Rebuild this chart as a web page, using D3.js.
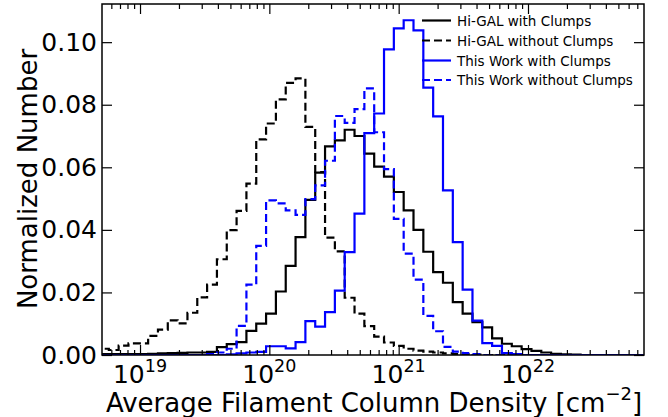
<!DOCTYPE html>
<html>
<head>
<meta charset="utf-8">
<script src="https://cdn.jsdelivr.net/npm/d3@7"></script>
<style>
  html, body { margin: 0; padding: 0; background: #fff; }
  svg { display: block; }
  text { font-family: "DejaVu Sans", sans-serif; fill: #000; }
</style>
</head>
<body>
<svg id="chart" width="668" height="417"></svg>
<script>
// ---- Data (histogram bins in log10 N) ----
const LOG_START = 18.6827;   // first bin edge, log10(cm^-2)
const LOG_STEP = 0.0760;     // bin width, dex
const N_BINS = 56;

const higalWith = [
  0.0003,0.0003,0.0003,0.0003,0.0003,0.0004,0.0005,0.0006,0.0007,0.0008,
  0.0008,0.0010,0.0025,0.0035,0.0041,0.0077,0.0100,0.0132,0.0203,0.0285,
  0.0377,0.0496,0.0583,0.0667,0.0686,0.0720,0.0700,0.0644,0.0602,0.0570,
  0.0521,0.0462,0.0400,0.0330,0.0265,0.0231,0.0169,0.0132,0.0105,0.0088,
  0.0053,0.0036,0.0028,0.0019,0.0013,0.0008,0.0004,0.0002,0.0001,0,
  0,0,0,0,0,0
];
const higalWithout = [
  0.0020,0.0016,0.0030,0.0037,0.0037,0.0061,0.0081,0.0111,0.0101,0.0135,
  0.0184,0.0225,0.0306,0.0399,0.0461,0.0548,0.0689,0.0740,0.0817,0.0870,
  0.0884,0.0729,0.0585,0.0375,0.0331,0.0183,0.0132,0.0092,0.0059,0.0040,
  0.0029,0.0020,0.0014,0.0011,0.0008,0.0005,0.0003,0.0002,0.0001,0,
  0,0,0,0,0,0,0,0,0,0,
  0,0,0,0,0,0
];
const thisWith = [
  0,0,0,0,0,0,0,0,0,0,
  0,0,0,0.0002,0.0005,0.0008,0.0010,0.0028,0.0028,0.0021,
  0.0041,0.0108,0.0091,0.0137,0.0206,0.0329,0.0452,0.0709,0.0772,0.0977,
  0.1044,0.1070,0.1038,0.0855,0.0763,0.0526,0.0361,0.0209,0.0110,0.0038,
  0.0029,0.0006,0.0003,0,0,0,0,0,0,0,
  0,0,0,0,0,0
];
const thisWithout = [
  0,0,0,0,0,0,0,0,0,0,
  0,0.0003,0.0008,0.0020,0.0093,0.0225,0.0349,0.0494,0.0485,0.0462,
  0.0448,0.0498,0.0542,0.0621,0.0764,0.0742,0.0786,0.0852,0.0712,0.0594,
  0.0435,0.0324,0.0241,0.0125,0.0076,0.0026,0.0011,0.0006,0.0003,0,
  0,0,0,0,0,0,0,0,0,0,
  0,0,0,0,0,0
];

const seriesNames = ["Hi-GAL with Clumps", "Hi-GAL without Clumps", "This Work with Clumps", "This Work without Clumps"];
const seriesColors = ["#000000", "#000000", "#0000ff", "#0000ff"];
const seriesDashed = [false, true, false, true];
const seriesValues = [higalWith, higalWithout, thisWith, thisWithout];

const xDomainLog = [18.706, 22.897];
const yDomain = [0, 0.1122];
const yTicks = [0, 0.02, 0.04, 0.06, 0.08, 0.10];
const xMajorExps = [19, 20, 21, 22];

// ---- Layout ----
const L = 102, R = 644, T = 4, B = 355;
const svg = d3.select("#chart");

const x = d3.scaleLog().domain(xDomainLog.map(e => Math.pow(10, e))).range([L, R]);
const y = d3.scaleLinear().domain(yDomain).range([B, T]);

const edges = d3.range(N_BINS + 1).map(i => Math.pow(10, LOG_START + i * LOG_STEP));

svg.append("defs").append("clipPath").attr("id", "plotclip")
  .append("rect").attr("x", L).attr("y", T).attr("width", R - L).attr("height", B - T);

const plot = svg.append("g").attr("clip-path", "url(#plotclip)");
const line = d3.line().x(d => x(d[0])).y(d => y(d[1]));

seriesValues.forEach((vals, si) => {
  const pts = [[edges[0], 0]];
  vals.forEach((v, i) => { pts.push([edges[i], v]); pts.push([edges[i + 1], v]); });
  pts.push([edges[N_BINS], 0]);
  plot.append("path")
    .attr("d", line(pts))
    .attr("fill", "none")
    .attr("stroke", seriesColors[si])
    .attr("stroke-width", 2.2)
    .attr("stroke-linejoin", "miter")
    .attr("stroke-dasharray", seriesDashed[si] ? "8,4" : null);
});

// ---- Axes ----
const minorTicks = [];
for (let d = 18; d <= 22; d++) {
  for (let m = 2; m <= 9; m++) {
    const v = m * Math.pow(10, d);
    if (v > x.domain()[0] && v < x.domain()[1]) minorTicks.push(v);
  }
}
const majorTicks = xMajorExps.map(e => Math.pow(10, e));

function styleAxis(g) {
  g.select(".domain").remove();
  g.selectAll(".tick line").attr("stroke", "#000").attr("stroke-width", 1.2);
}

// bottom
svg.append("g").attr("transform", `translate(0,${B})`)
  .call(d3.axisBottom(x).tickValues(majorTicks).tickSize(-10).tickFormat(() => ""))
  .call(styleAxis);
svg.append("g").attr("transform", `translate(0,${B})`)
  .call(d3.axisBottom(x).tickValues(minorTicks).tickSize(-5).tickFormat(() => ""))
  .call(styleAxis);
// top
svg.append("g").attr("transform", `translate(0,${T})`)
  .call(d3.axisTop(x).tickValues(majorTicks).tickSize(-10).tickFormat(() => ""))
  .call(styleAxis);
svg.append("g").attr("transform", `translate(0,${T})`)
  .call(d3.axisTop(x).tickValues(minorTicks).tickSize(-5).tickFormat(() => ""))
  .call(styleAxis);
// left
const yAxisG = svg.append("g").attr("transform", `translate(${L},0)`)
  .call(d3.axisLeft(y).tickValues(yTicks).tickSize(-10).tickPadding(5).tickFormat(d3.format(".2f")))
  .call(styleAxis);
yAxisG.selectAll(".tick text")
  .attr("font-family", "DejaVu Sans").attr("font-size", 25).attr("fill", "#000");
// right
svg.append("g").attr("transform", `translate(${R},0)`)
  .call(d3.axisRight(y).tickValues(yTicks).tickSize(-10).tickFormat(() => ""))
  .call(styleAxis);

// x tick labels 10^n
xMajorExps.forEach(e => {
  const t = svg.append("text")
    .attr("x", x(Math.pow(10, e)))
    .attr("y", 383)
    .attr("text-anchor", "middle")
    .attr("font-size", 25);
  t.append("tspan").text("10");
  t.append("tspan").attr("font-size", 17.5).attr("dy", -11).text(String(e));
});

// spines
svg.append("rect").attr("x", L).attr("y", T).attr("width", R - L).attr("height", B - T)
  .attr("fill", "none").attr("stroke", "#000").attr("stroke-width", 1.5);

// axis labels
const xl = svg.append("text")
  .attr("x", 374).attr("y", 412)
  .attr("text-anchor", "middle").attr("font-size", 26);
xl.append("tspan").text("Average Filament Column Density [cm");
xl.append("tspan").attr("font-size", 18).attr("dy", -12).text("\u22122");
xl.append("tspan").attr("dy", 12).text("]");

svg.append("text")
  .attr("transform", `translate(37,179) rotate(-90)`)
  .attr("text-anchor", "middle").attr("font-size", 26)
  .text("Normalized Number");

// legend
const legendY = [20.5, 40.5, 60.5, 80];
seriesNames.forEach((name, i) => {
  svg.append("line")
    .attr("x1", 422).attr("x2", 451)
    .attr("y1", legendY[i]).attr("y2", legendY[i])
    .attr("stroke", seriesColors[i]).attr("stroke-width", 2.2)
    .attr("stroke-dasharray", seriesDashed[i] ? "8,4" : null);
  svg.append("text")
    .attr("x", 457).attr("y", legendY[i] + 5)
    .attr("font-size", 13.5)
    .text(name);
});
</script>
</body>
</html>
